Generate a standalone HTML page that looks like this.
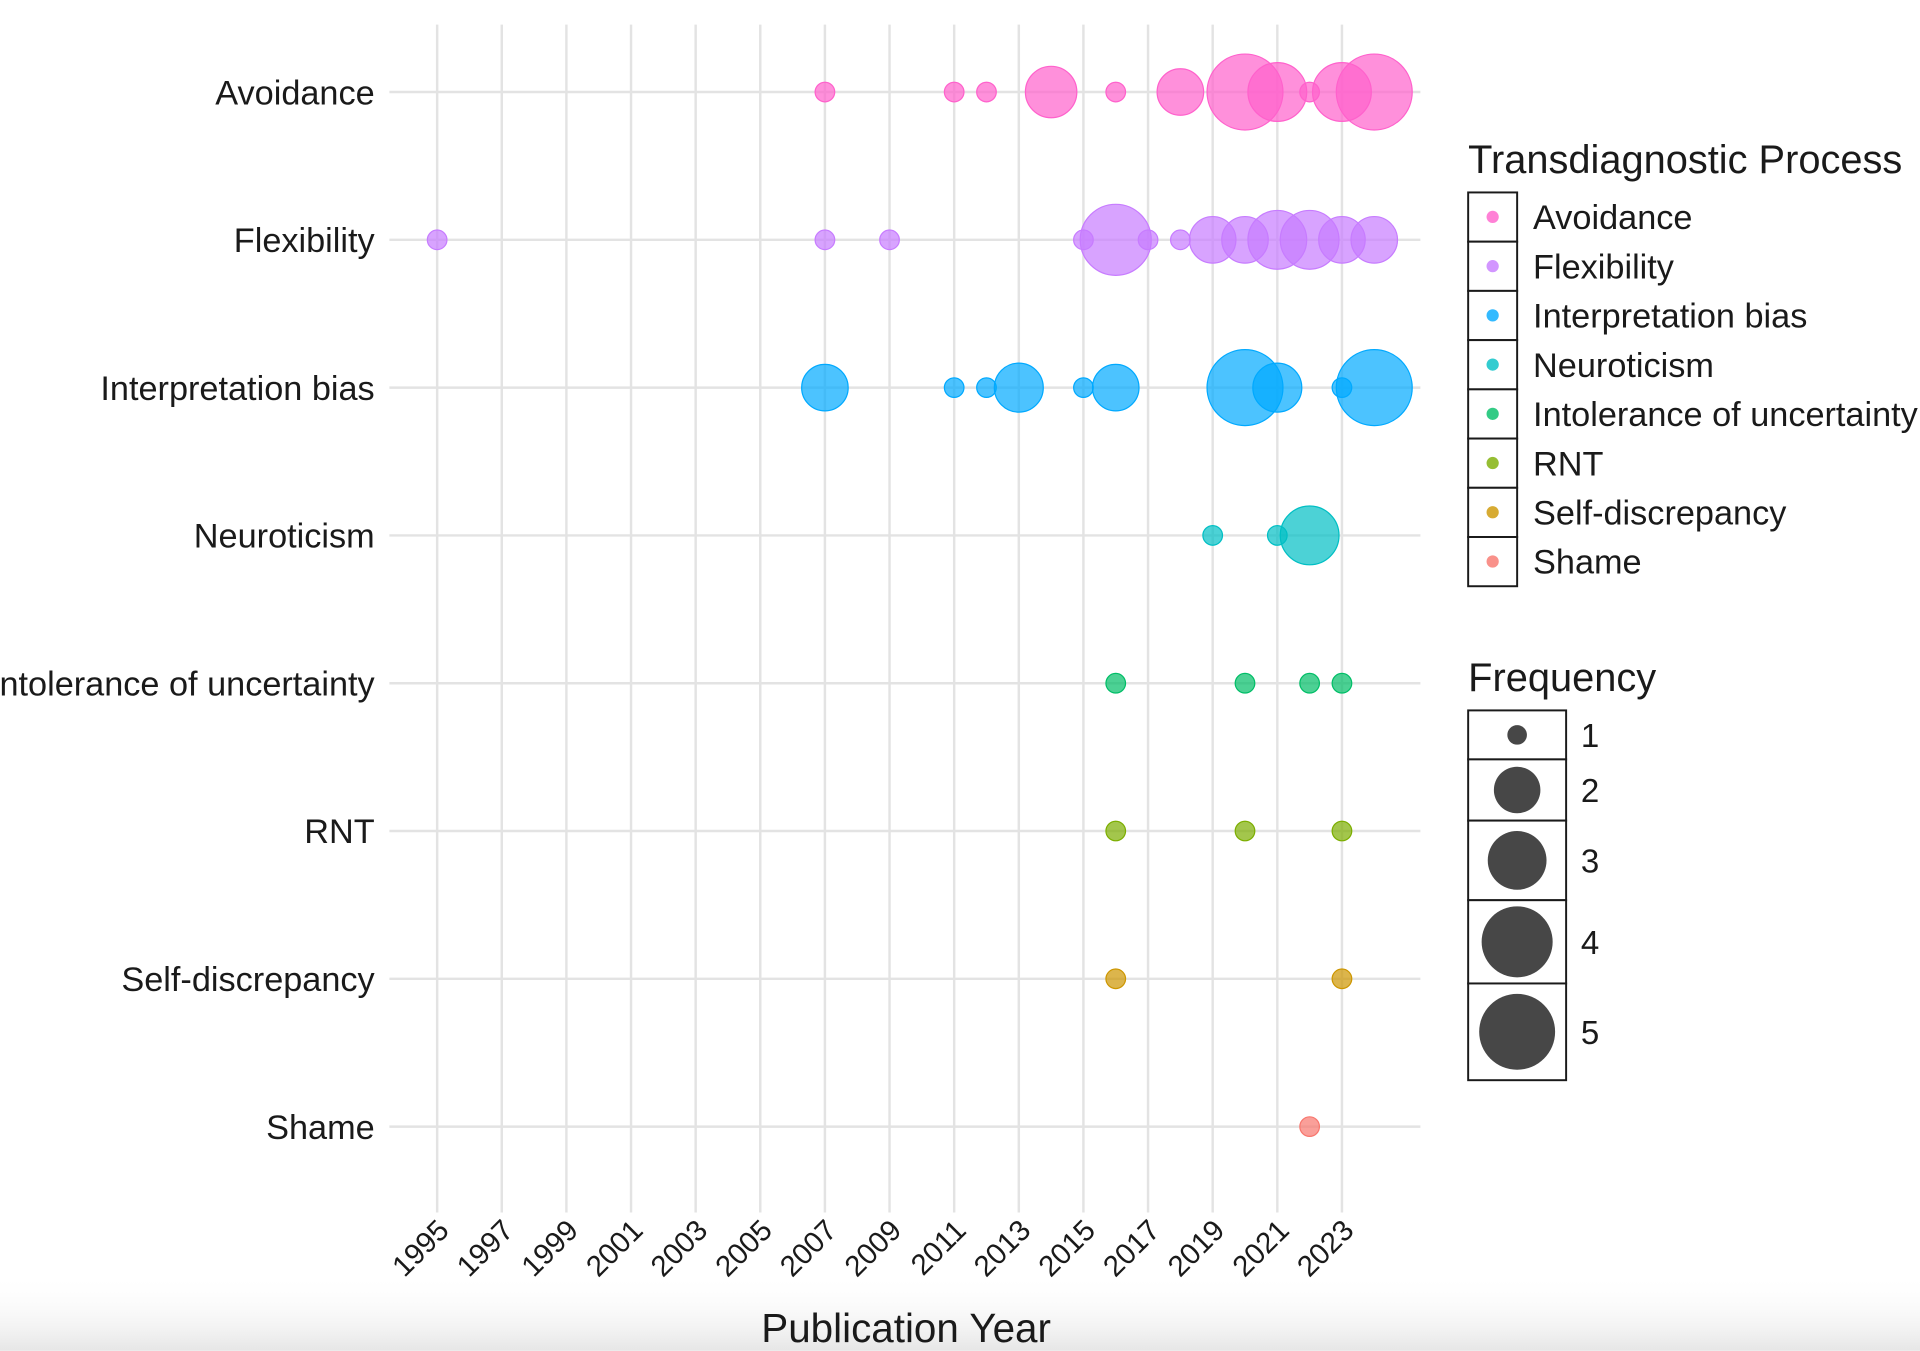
<!DOCTYPE html>
<html><head><meta charset="utf-8"><style>
html,body{margin:0;padding:0;background:#fff;overflow:hidden;}
svg{display:block;}
text{font-family:"Liberation Sans",Arial,sans-serif;fill:#1a1a1a;}
</style></head><body>
<svg width="1920" height="1351" viewBox="0 0 1568 1103" xmlns="http://www.w3.org/2000/svg">
<defs><linearGradient id="g" x1="0" y1="0" x2="0" y2="1"><stop offset="0" stop-color="#fff" stop-opacity="0"/><stop offset="1" stop-color="#e6e6e6"/></linearGradient></defs>
<rect x="0" y="1040" width="1568" height="63" fill="url(#g)"/>
<g stroke="#e3e3e3" stroke-width="2" id="grid"></g>
<g id="pts"></g>
<g id="lab"></g>
<text x="740" y="1096" font-size="33" text-anchor="middle">Publication Year</text>
<text x="1199" y="141" font-size="32.5">Transdiagnostic Process</text>
<g id="leg"></g>
<text x="1199" y="564" font-size="32.5">Frequency</text>
<g id="leg2"></g>
</svg>
<script>
const ns="http://www.w3.org/2000/svg";
function el(p,t,a,txt){const e=document.createElementNS(ns,t);for(const k in a)e.setAttribute(k,a[k]);if(txt)e.textContent=txt;document.getElementById(p).appendChild(e);return e;}
const X=y=>357+(y-1995)*26.39;
const rows=["Avoidance","Flexibility","Interpretation bias","Neuroticism","Intolerance of uncertainty","RNT","Self-discrepancy","Shame"];
const cols=["#FF61CC","#C77CFF","#00A9FF","#00BFC4","#00BE67","#7CAE00","#CD9600","#F8766D"];
const Y=i=>75+i*120.7;
for(let y=1995;y<=2023;y+=2){el("grid","line",{x1:X(y),x2:X(y),y1:20,y2:990});}
rows.forEach((r,i)=>{el("grid","line",{x1:318,x2:1160,y1:Y(i),y2:Y(i)});
 el("lab","text",{x:306,y:Y(i)+10,"font-size":28,"text-anchor":"end"},r);});
for(let y=1995;y<=2023;y+=2){el("lab","text",{x:0,y:0,"font-size":24,"text-anchor":"end",transform:`translate(${X(y)+11},1006) rotate(-45)`},String(y));}
const d=[
[[2007,8],[2011,8],[2012,8],[2014,21],[2016,8],[2018,19],[2020,31],[2021,24],[2022,8],[2023,24],[2024,31]],
[[1995,8],[2007,8],[2009,8],[2015,8],[2016,29],[2017,8],[2018,8],[2019,19],[2020,19],[2021,24],[2022,24],[2023,19],[2024,19]],
[[2007,19],[2011,8],[2012,8],[2013,20],[2015,8],[2016,19],[2020,31],[2021,20],[2023,8],[2024,31]],
[[2019,8],[2021,8],[2022,24]],
[[2016,8],[2020,8],[2022,8],[2023,8]],
[[2016,8],[2020,8],[2023,8]],
[[2016,8],[2023,8]],
[[2022,8]]];
d.forEach((s,i)=>s.forEach(([y,r])=>el("pts","circle",{cx:X(y),cy:Y(i),r:r,fill:cols[i],"fill-opacity":0.7,stroke:cols[i],"stroke-width":1})));
rows.forEach((r,i)=>{const y0=157+i*40.2;
 el("leg","rect",{x:1199,y:y0,width:40,height:40.2,fill:"#fff",stroke:"#1a1a1a","stroke-width":1.6});
 el("leg","circle",{cx:1219,cy:y0+20,r:5,fill:cols[i],"fill-opacity":0.8});
 el("leg","text",{x:1252,y:y0+30,"font-size":28},r);});
const f=[[580,620,8],[620,670,19],[670,735,24],[735,803,29],[803,882,31]];
f.forEach(([a,b,r],i)=>{el("leg2","rect",{x:1199,y:a,width:80,height:b-a,fill:"#fff",stroke:"#1a1a1a","stroke-width":1.6});
 el("leg2","circle",{cx:1239,cy:(a+b)/2,r:r,fill:"#333","fill-opacity":0.9});
 el("leg2","text",{x:1291,y:(a+b)/2+10,"font-size":27},String(i+1));});
</script>
</body></html>
